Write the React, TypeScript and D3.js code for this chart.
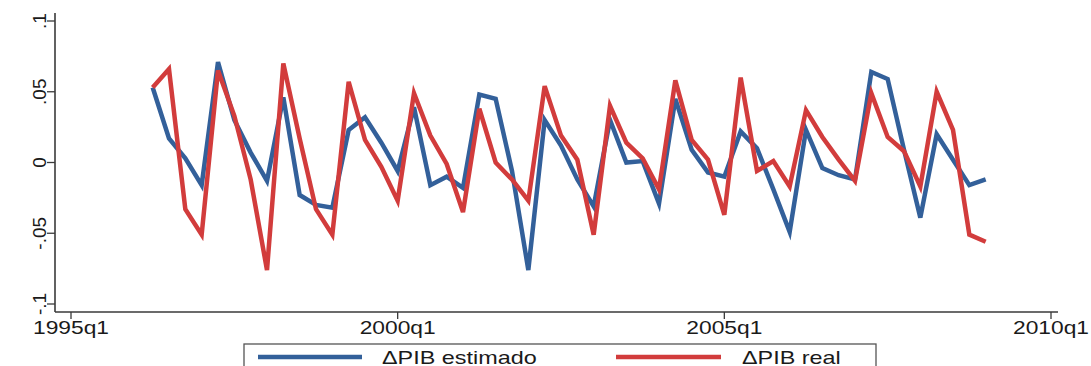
import React from 'react';
import * as d3 from 'd3';

// quarters shown on the chart (1996q2 .. 2009q1)
const periods = [
	'1996q2', '1996q3', '1996q4', '1997q1', '1997q2', '1997q3', '1997q4',
	'1998q1', '1998q2', '1998q3', '1998q4', '1999q1', '1999q2', '1999q3', '1999q4',
	'2000q1', '2000q2', '2000q3', '2000q4', '2001q1', '2001q2', '2001q3', '2001q4',
	'2002q1', '2002q2', '2002q3', '2002q4', '2003q1', '2003q2', '2003q3', '2003q4',
	'2004q1', '2004q2', '2004q3', '2004q4', '2005q1', '2005q2', '2005q3', '2005q4',
	'2006q1', '2006q2', '2006q3', '2006q4', '2007q1', '2007q2', '2007q3', '2007q4',
	'2008q1', '2008q2', '2008q3', '2008q4', '2009q1'
];

const pibEstimado = [
	0.053, 0.017, 0.003, -0.016, 0.071, 0.030, 0.007,
	-0.013, 0.046, -0.023, -0.030, -0.032, 0.023, 0.032, 0.014,
	-0.006, 0.039, -0.016, -0.010, -0.018, 0.048, 0.045, -0.006,
	-0.076, 0.030, 0.012, -0.012, -0.031, 0.030, 0.000, 0.001,
	-0.029, 0.045, 0.009, -0.007, -0.010, 0.022, 0.010, -0.019,
	-0.049, 0.023, -0.004, -0.009, -0.012, 0.064, 0.059, 0.009,
	-0.039, 0.020, 0.002, -0.016, -0.012
];

const pibReal = [
	0.053, 0.066, -0.033, -0.051, 0.065, 0.033, -0.012,
	-0.076, 0.070, 0.017, -0.033, -0.051, 0.057, 0.016, -0.003,
	-0.027, 0.049, 0.019, -0.001, -0.035, 0.038, 0.000, -0.012,
	-0.027, 0.054, 0.019, 0.002, -0.051, 0.040, 0.014, 0.003,
	-0.019, 0.058, 0.016, 0.002, -0.037, 0.060, -0.006, 0.001,
	-0.017, 0.037, 0.018, 0.002, -0.013, 0.049, 0.018, 0.008,
	-0.017, 0.050, 0.023, -0.051, -0.056
];

const xTickLabels = ['1995q1', '2000q1', '2005q1', '2010q1'];
const yTickValues = [-0.1, -0.05, 0, 0.05, 0.1];
const yTickLabels = ['-.1', '-.05', '0', '.05', '.1'];

const BLUE = '#33609a';
const RED = '#d23c3c';
const AXIS = '#3a3a3a';
const FONT = '"Liberation Sans", Arial, sans-serif';

// quarter index counted from 1995q1
const quarterIndex = (p: string) => (+p.slice(0, 4) - 1995) * 4 + (+p.slice(5) - 1);

export default function App() {
	const width = 1091;
	const height = 366;
	const axisX = 55;
	const axisY = 312;

	const x = d3.scaleLinear().domain([0, 60]).range([71, 1051]);
	const y = d3.scaleLinear().domain([-0.1, 0.1]).range([304, 21]);

	const line = d3.line<number>()
		.x((_, i) => x(quarterIndex(periods[i])))
		.y(d => y(d));

	return (
		<svg width={width} height={height} style={{ position: 'absolute', left: 0, top: 0, background: '#fff' }}>
			{/* y axis */}
			<line x1={axisX} x2={axisX} y1={13} y2={axisY} stroke={AXIS} strokeWidth={1.6} />
			{yTickValues.map((v, i) => (
				<g key={v}>
					<line x1={axisX - 8} x2={axisX} y1={y(v)} y2={y(v)} stroke={AXIS} strokeWidth={1.3} />
					<text
						transform={`translate(${39},${y(v)}) rotate(-90)`}
						textAnchor="middle"
						dominantBaseline="central"
						fontFamily={FONT}
						fontSize={19}
						fill="#1a1a1a"
					>{yTickLabels[i]}</text>
				</g>
			))}

			{/* x axis */}
			<line x1={axisX} x2={1058} y1={axisY} y2={axisY} stroke={AXIS} strokeWidth={1.6} />
			{xTickLabels.map(lbl => {
				const px = x(quarterIndex(lbl));
				return (
					<g key={lbl}>
						<line x1={px} x2={px} y1={axisY} y2={axisY + 7} stroke={AXIS} strokeWidth={1.3} />
						<text
							transform={`translate(${px},${334}) scale(1.2,1)`}
							textAnchor="middle"
							fontFamily={FONT}
							fontSize={19}
							fill="#1a1a1a"
						>{lbl}</text>
					</g>
				);
			})}

			{/* series */}
			<path d={line(pibEstimado) ?? ''} fill="none" stroke={BLUE} strokeWidth={4.5} strokeLinejoin="miter" />
			<path d={line(pibReal) ?? ''} fill="none" stroke={RED} strokeWidth={4.5} strokeLinejoin="miter" />

			{/* legend */}
			<rect x={244} y={344} width={632} height={40} fill="#fff" stroke="#555" strokeWidth={1.3} />
			<line x1={258} x2={362} y1={357} y2={357} stroke={BLUE} strokeWidth={4.5} />
			<text transform={`translate(${382},${364}) scale(1.3,1)`} fontFamily={FONT} fontSize={18} fill="#1a1a1a">ΔPIB estimado</text>
			<line x1={616} x2={721} y1={357} y2={357} stroke={RED} strokeWidth={4.5} />
			<text transform={`translate(${742},${364}) scale(1.3,1)`} fontFamily={FONT} fontSize={18} fill="#1a1a1a">ΔPIB real</text>
		</svg>
	);
}
